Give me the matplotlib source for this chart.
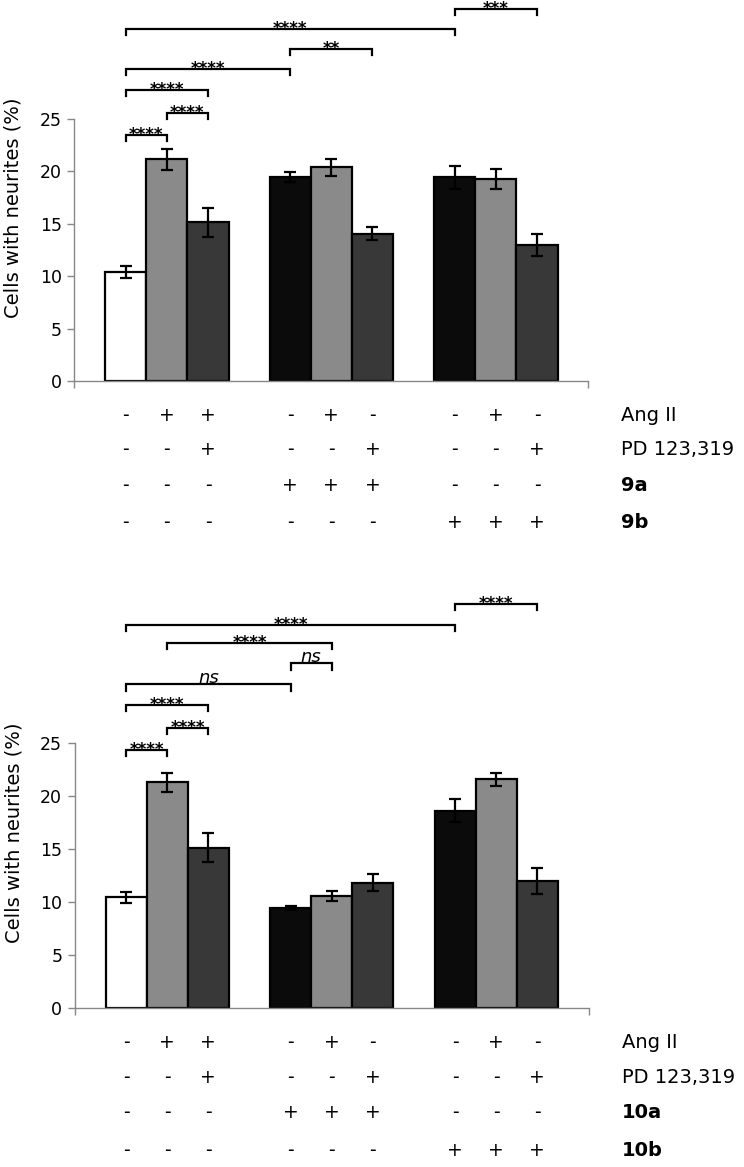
import numpy as np
import matplotlib.pyplot as plt

# bar order: (ctrl, AngII, AngII+PD), (cpd a, +AngII, +PD), (cpd b, +AngII, +PD)
positions = [0, 1, 2, 4, 5, 6, 8, 9, 10]
bar_colors = ["#ffffff", "#8a8a8a", "#383838",
              "#0b0b0b", "#8a8a8a", "#383838",
              "#0b0b0b", "#8a8a8a", "#383838"]

top_means = [10.4, 21.15, 15.15, 19.45, 20.4, 14.05, 19.45, 19.3, 12.95]
top_err = [0.6, 1.0, 1.4, 0.45, 0.8, 0.6, 1.1, 0.95, 1.05]
bottom_means = [10.4, 21.25, 15.1, 9.4, 10.55, 11.8, 18.6, 21.55, 11.95]
bottom_err = [0.55, 0.9, 1.4, 0.2, 0.5, 0.8, 1.1, 0.6, 1.25]

# (bar i, bar j, height, label)
top_sig = [(0, 1, 23.5, "****"), (1, 2, 25.6, "****"), (0, 2, 27.8, "****"),
           (0, 3, 29.8, "****"), (3, 5, 31.7, "**"), (0, 6, 33.6, "****"),
           (6, 8, 35.5, "***")]
bottom_sig = [(0, 1, 24.3, "****"), (1, 2, 26.4, "****"), (0, 2, 28.6, "****"),
              (0, 3, 30.5, "ns"), (3, 4, 32.5, "ns"), (1, 4, 34.4, "****"),
              (0, 6, 36.1, "****"), (6, 8, 38.1, "****")]

ang_row = ["-", "+", "+", "-", "+", "-", "-", "+", "-"]
pd_row = ["-", "-", "+", "-", "-", "+", "-", "-", "+"]
cpd_a_row = ["-", "-", "-", "+", "+", "+", "-", "-", "-"]
cpd_b_row = ["-", "-", "-", "-", "-", "-", "+", "+", "+"]
top_names = ["Ang II", "PD 123,319", "9a", "9b"]
bottom_names = ["Ang II", "PD 123,319", "10a", "10b"]
row_y = [-0.13, -0.262, -0.397, -0.54]

ax_gray = "#888888"


def draw_panel(ax, means, errs, sig, names):
    ax.bar(positions, means, width=1.0, color=bar_colors, edgecolor="black",
           linewidth=1.6, zorder=2)
    ax.errorbar(positions, means, yerr=errs, fmt="none", ecolor="black",
                elinewidth=1.6, capsize=4, capthick=1.6, zorder=3)
    ax.set_xlim(-1.25, 11.25)
    ax.set_ylim(0, 25)
    ax.set_yticks([0, 5, 10, 15, 20, 25])
    ax.set_xticks([-1.25, 11.25])
    ax.set_xticklabels([])
    ax.tick_params(axis="y", direction="out", length=5, width=1, color=ax_gray,
                   labelsize=12.5, pad=4)
    ax.tick_params(axis="x", direction="out", length=5, width=1, color=ax_gray)
    for s in ["top", "right"]:
        ax.spines[s].set_visible(False)
    for s in ["left", "bottom"]:
        ax.spines[s].set_color(ax_gray)
        ax.spines[s].set_linewidth(1)
    ax.set_ylabel("Cells with neurites (%)", fontsize=14)
    ax.yaxis.set_label_coords(-0.1, 0.66)

    leg = 0.6
    for i, j, h, lab in sig:
        x1, x2 = positions[i], positions[j]
        ax.plot([x1, x1, x2, x2], [h - leg, h, h, h - leg], color="black",
                lw=1.6, clip_on=False, solid_joinstyle="miter")
        if lab == "ns":
            ax.text((x1 + x2) / 2, h + 0.1, lab, ha="center", va="baseline",
                    fontsize=13, style="italic")
        else:
            ax.text((x1 + x2) / 2, h, lab, ha="center", va="center",
                    fontsize=12, fontweight="bold")

    trans = ax.get_xaxis_transform()
    rows = [ang_row, pd_row, cpd_a_row, cpd_b_row]
    for k, row in enumerate(rows):
        for x, sgn in zip(positions, row):
            ax.text(x, row_y[k], sgn, transform=trans, ha="center",
                    va="center", fontsize=13.5, clip_on=False)
        ax.text(12.05, row_y[k], names[k], transform=trans, ha="left",
                va="center", fontsize=14,
                fontweight="bold" if k >= 2 else "normal", clip_on=False)


fig = plt.figure(figsize=(7.44, 11.67), dpi=100)
ax1 = fig.add_axes([0.0999, 0.6735, 0.6909, 0.2245])
ax2 = fig.add_axes([0.1004, 0.1365, 0.6909, 0.2271])
draw_panel(ax1, top_means, top_err, top_sig, top_names)
draw_panel(ax2, bottom_means, bottom_err, bottom_sig, bottom_names)

fig.savefig("out.png", dpi=100)
